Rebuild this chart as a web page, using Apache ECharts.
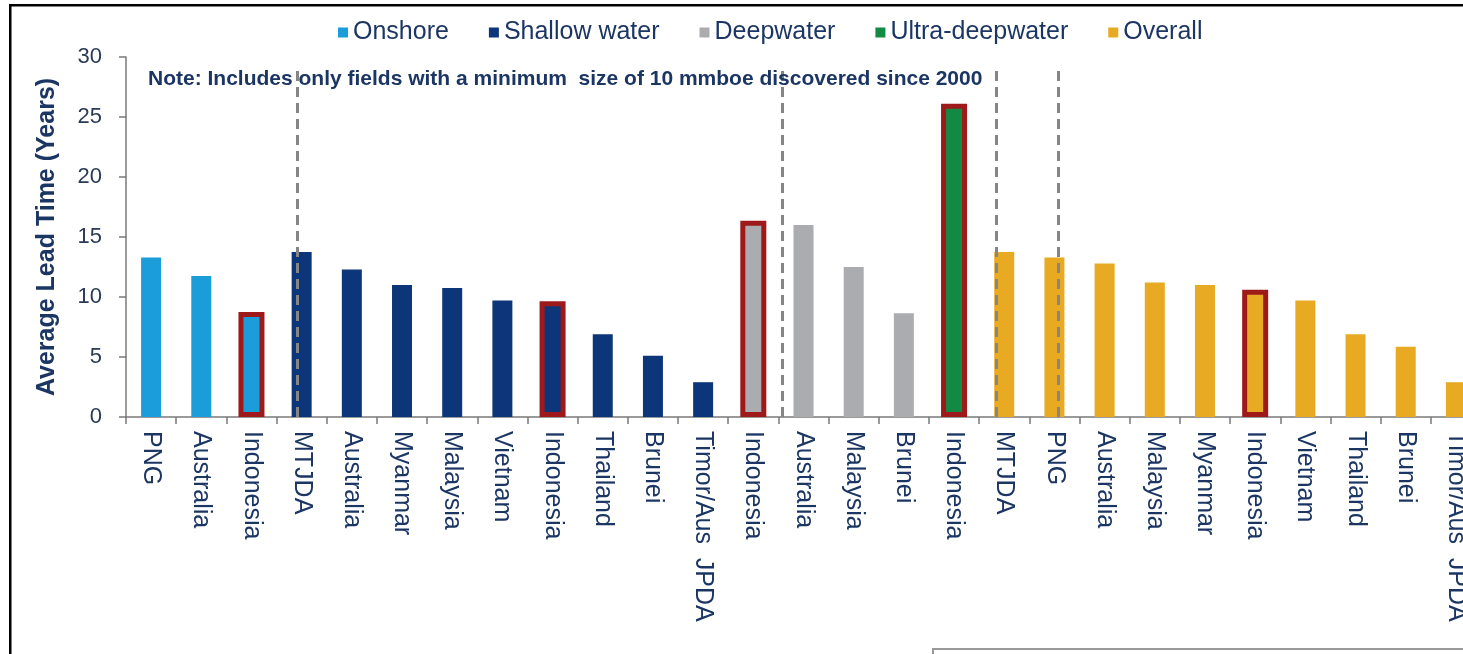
<!DOCTYPE html>
<html>
<head>
<meta charset="utf-8">
<script src="https://cdn.jsdelivr.net/npm/echarts@6/dist/echarts.min.js"></script>
<style>
html,body{margin:0;padding:0;background:#fff;overflow:hidden;width:1463px;height:654px;}
#chart{width:1481px;height:654px;}
</style>
</head>
<body>
<div id="chart"></div>
<script>
const categories = ['PNG','Australia','Indonesia','MTJDA','Australia','Myanmar','Malaysia','Vietnam','Indonesia','Thailand','Brunei','Timor/Aus  JPDA','Indonesia','Australia','Malaysia','Brunei','Indonesia','MTJDA','PNG','Australia','Malaysia','Myanmar','Indonesia','Vietnam','Thailand','Brunei','Timor/Aus  JPDA'];
const seriesNames = ['Onshore','Shallow water','Deepwater','Ultra-deepwater','Overall'];
const onshore = [13.3, 11.75, 8.75];
const shallowWater = [13.75, 12.3, 11.0, 10.75, 9.7, 9.65, 6.9, 5.1, 2.9];
const deepwater = [16.35, 16.0, 12.5, 8.65];
const ultraDeepwater = [26.1];
const overall = [13.75, 13.3, 12.8, 11.2, 11.0, 10.6, 9.7, 6.9, 5.85, 2.9];
const highlightedCountry = 'Indonesia';
const dividerPositions = [2.91, 12.57, 16.85, 18.07];
const dividerTop = 28.9;
const noteText = 'Note: Includes only fields with a minimum  size of 10 mmboe discovered since 2000';
const yAxisTitle = 'Average Lead Time (Years)';

const colors = ['#1B9DD9', '#0C3679', '#ABACB0', '#138A43', '#E8AA22'];
const groups = [onshore, shallowWater, deepwater, ultraDeepwater, overall];
const textColor = '#1c3664';
const font = 'Liberation Sans, Arial, sans-serif';

let offset = 0;
const highlightData = categories.map(() => '-');
const barSeries = groups.map((vals, gi) => {
  const data = categories.map(() => '-');
  vals.forEach((v, k) => {
    const idx = offset + k;
    if (categories[idx] === highlightedCountry) {
      highlightData[idx] = { value: v, itemStyle: { color: colors[gi] } };
    } else {
      data[idx] = v;
    }
  });
  offset += vals.length;
  return {
    name: seriesNames[gi],
    type: 'bar',
    stack: 'all',
    barWidth: 20,
    itemStyle: { color: colors[gi] },
    data: data,
    z: 2
  };
});

const axisColor = '#7a7a7a';
const chart = echarts.init(document.getElementById('chart'), null, { renderer: 'canvas' });
chart.setOption({
  backgroundColor: '#fff',
  animation: false,
  textStyle: { fontFamily: font },
  legend: {
    data: seriesNames,
    left: 333, top: 15,
    itemWidth: 10, itemHeight: 10, itemGap: 40,
    icon: 'rect',
    textStyle: { fontSize: 25, color: textColor, fontFamily: font }
  },
  grid: { left: 126, top: 57, right: 0, height: 360, containLabel: false },
  xAxis: [{
    type: 'category',
    data: categories,
    axisLine: { lineStyle: { color: axisColor, width: 1.5 } },
    axisTick: { show: true, length: 7, lineStyle: { color: axisColor, width: 1.5 } },
    axisLabel: { rotate: -90, interval: 0, margin: 14, fontSize: 25, color: textColor, fontFamily: font }
  }, {
    type: 'value', min: -0.5, max: 26.5, show: false
  }, {
    type: 'category', data: categories, show: false
  }],
  yAxis: {
    type: 'value', min: 0, max: 30, interval: 5,
    name: yAxisTitle,
    nameLocation: 'middle', nameGap: 66,
    nameTextStyle: { fontSize: 25, fontWeight: 'bold', color: textColor, fontFamily: font },
    axisLine: { show: true, onZero: false, lineStyle: { color: axisColor, width: 1.5 } },
    axisTick: { show: true, length: 7, lineStyle: { color: axisColor, width: 1.5 } },
    splitLine: { show: false },
    axisLabel: { margin: 24, fontSize: 22, color: '#2a3a55', fontFamily: font }
  },
  graphic: [
    { type: 'rect', shape: { x: 9, y: 4, width: 1480, height: 2.5 }, style: { fill: '#000' }, z: 100 },
    { type: 'rect', shape: { x: 9, y: 4, width: 2.5, height: 660 }, style: { fill: '#000' }, z: 100 },
    { type: 'rect', shape: { x: 933, y: 649, width: 600, height: 40 }, style: { fill: '#fff', stroke: '#9a9a9a', lineWidth: 2 }, z: 100 },
    { type: 'text', left: 148, top: 69, style: { text: noteText, font: 'bold 21px ' + font, fill: textColor }, z: 100 }
  ],
  series: barSeries.concat([{
    name: 'highlight',
    type: 'bar',
    xAxisIndex: 2,
    barWidth: 26,
    itemStyle: { borderColor: '#9E1A1A', borderWidth: 5 },
    data: highlightData,
    z: 3
  }, {
    type: 'lines',
    coordinateSystem: 'cartesian2d',
    xAxisIndex: 1,
    yAxisIndex: 0,
    silent: true,
    z: 10,
    lineStyle: { color: '#858585', width: 3, type: [10, 6], opacity: 1 },
    data: dividerPositions.map(p => ({ coords: [[p, 0], [p, dividerTop]] }))
  }])
});
</script>
</body>
</html>
